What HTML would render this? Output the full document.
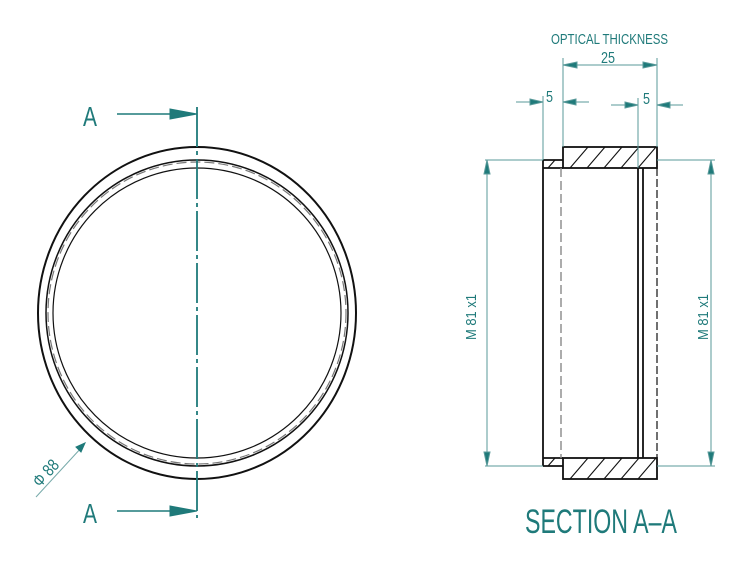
<!DOCTYPE html>
<html><head><style>body{margin:0;background:#fff}svg{display:block}</style></head><body>
<svg width="740" height="566" viewBox="0 0 740 566" xmlns="http://www.w3.org/2000/svg" font-family="Liberation Sans, sans-serif">
<g fill="none" stroke="#111">
<ellipse cx="197" cy="313" rx="159" ry="166" stroke-width="2"/>
<ellipse cx="197" cy="313" rx="151" ry="153" stroke-width="1.5"/>
<ellipse cx="197" cy="313" rx="149" ry="151" stroke="#777" stroke-width="1.2" stroke-dasharray="10 4"/>
<ellipse cx="197" cy="313" rx="144" ry="145" stroke-width="1.2"/>
</g>
<g stroke="#1f7a7a" fill="#1f7a7a">
<line x1="197" y1="107" x2="197" y2="518" stroke-width="1.8" stroke-dasharray="40 4 4 4"/>
<line x1="117" y1="114" x2="172" y2="114" stroke-width="1.5"/>
<polygon points="170,109 197,114 170,119"/>
<line x1="117" y1="511" x2="172" y2="511" stroke-width="1.5"/>
<polygon points="170,506 197,511 170,516"/>
<line x1="36" y1="497" x2="82" y2="447" stroke-width="1" stroke="#7aa"/>
<polygon points="85,443 76,447 81,452" />
</g>
<g fill="#1f7a7a" font-size="28"><text x="83" y="126" textLength="14" lengthAdjust="spacingAndGlyphs">A</text><text x="83" y="523" textLength="14" lengthAdjust="spacingAndGlyphs">A</text></g>
<text x="40" y="488" fill="#1f7a7a" font-size="17" transform="rotate(-48 40 488)" textLength="30" lengthAdjust="spacingAndGlyphs">Φ 88</text>

<g stroke="#111" fill="none" stroke-width="1.8">
<rect x="563" y="147" width="94" height="21"/>
<rect x="563" y="458" width="94" height="21"/>
<line x1="543" y1="160" x2="543" y2="466"/>
<line x1="543" y1="160" x2="563" y2="160"/>
<line x1="543" y1="466" x2="563" y2="466"/>
<line x1="543" y1="168" x2="563" y2="168"/>
<line x1="543" y1="458" x2="563" y2="458"/>
<line x1="638" y1="168" x2="638" y2="458"/>
<line x1="643" y1="168" x2="643" y2="458"/>
<line x1="657" y1="168" x2="657" y2="458" stroke-width="1.2" stroke-dasharray="8 3"/>
<line x1="561" y1="168" x2="561" y2="458" stroke="#888" stroke-width="1.4" stroke-dasharray="9 4"/>
<g stroke-width="1.1">
<line x1="570" y1="168" x2="588" y2="147"/><line x1="587" y1="168" x2="605" y2="147"/><line x1="604" y1="168" x2="622" y2="147"/><line x1="621" y1="168" x2="639" y2="147"/><line x1="638" y1="168" x2="656" y2="147"/>
<line x1="570" y1="479" x2="588" y2="458"/><line x1="587" y1="479" x2="605" y2="458"/><line x1="604" y1="479" x2="622" y2="458"/><line x1="621" y1="479" x2="639" y2="458"/><line x1="638" y1="479" x2="656" y2="458"/>
<line x1="548" y1="168" x2="555" y2="160"/><line x1="548" y1="466" x2="555" y2="458"/>
</g>
</g>
<g stroke="#5a9a9a" stroke-width="1" fill="#1f7a7a">
<line x1="485" y1="160" x2="543" y2="160"/><line x1="657" y1="160" x2="715" y2="160"/>
<line x1="485" y1="466" x2="543" y2="466"/><line x1="657" y1="466" x2="715" y2="466"/>
<line x1="487" y1="160" x2="487" y2="466"/><polygon points="487,160 484,174 490,174"/><polygon points="487,466 484,452 490,452"/>
<line x1="711" y1="160" x2="711" y2="466"/><polygon points="711,160 708,174 714,174"/><polygon points="711,466 708,452 714,452"/>
<line x1="563" y1="58" x2="563" y2="147"/><line x1="657" y1="58" x2="657" y2="147"/>
<line x1="543" y1="96" x2="543" y2="160"/><line x1="638" y1="98" x2="638" y2="168"/>
<line x1="563" y1="65" x2="657" y2="65"/><polygon points="563,65 577,62 577,68"/><polygon points="657,65 643,62 643,68"/>
<line x1="516" y1="102" x2="543" y2="102"/><polygon points="543,102 530,99 530,105"/>
<line x1="563" y1="102" x2="589" y2="102"/><polygon points="563,102 576,99 576,105"/>
<line x1="611" y1="105" x2="638" y2="105"/><polygon points="638,105 625,102 625,108"/>
<line x1="657" y1="105" x2="683" y2="105"/><polygon points="657,105 670,102 670,108"/>
</g>
<g fill="#1f7a7a">
<text x="551" y="44" font-size="15" textLength="117" lengthAdjust="spacingAndGlyphs">OPTICAL THICKNESS</text>
<text x="601" y="63" font-size="16" textLength="14" lengthAdjust="spacingAndGlyphs">25</text>
<text x="546" y="102" font-size="16" textLength="7" lengthAdjust="spacingAndGlyphs">5</text>
<text x="643" y="104" font-size="16" textLength="7" lengthAdjust="spacingAndGlyphs">5</text>
<text x="476" y="340" font-size="15" transform="rotate(-90 476 340)" textLength="46" lengthAdjust="spacingAndGlyphs">M 81 x1</text>
<text x="708" y="340" font-size="15" transform="rotate(-90 708 340)" textLength="46" lengthAdjust="spacingAndGlyphs">M 81 x1</text>
<text x="525" y="533" font-size="34" textLength="152" lengthAdjust="spacingAndGlyphs">SECTION A–A</text>
</g>
</svg>
</body></html>
